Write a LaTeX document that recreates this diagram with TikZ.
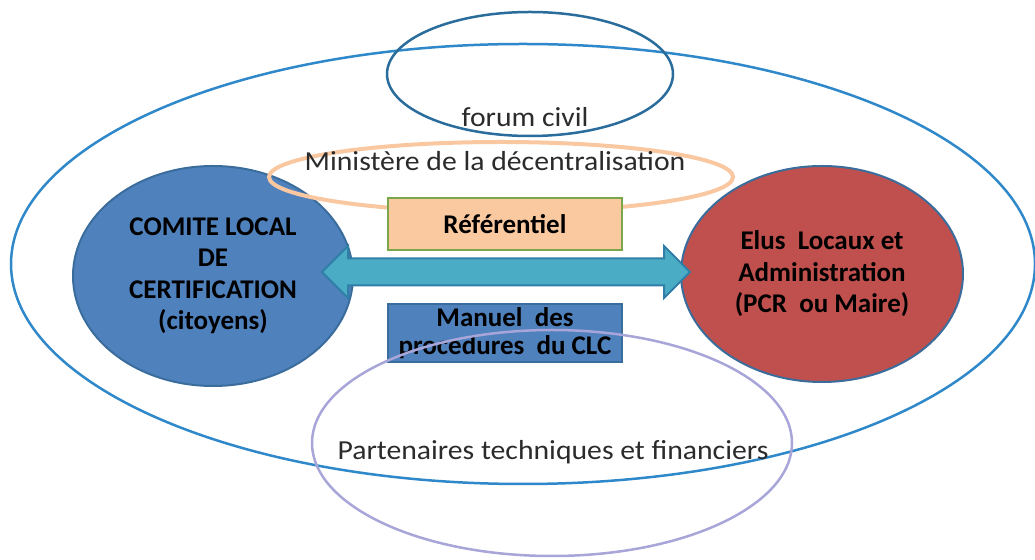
\documentclass[tikz,border=0pt]{standalone}
\usepackage{fontspec}
\setmainfont{Carlito}
\newfontfamily\widefont[FakeStretch=1.08]{Carlito}
\usetikzlibrary{shapes.geometric,shapes.arrows}

\definecolor{outerblue}{HTML}{2E88C9}
\definecolor{forumblue}{HTML}{2A6D9C}
\definecolor{minorange}{HTML}{F9C7A0}
\definecolor{refpeach}{HTML}{FAC9A0}
\definecolor{refgreen}{HTML}{7CA64A}
\definecolor{clcblue}{HTML}{4F81BD}
\definecolor{actorline}{HTML}{3A6C9C}
\definecolor{elusred}{HTML}{C0504D}
\definecolor{arrowteal}{HTML}{4BACC6}
\definecolor{arrowline}{HTML}{2F7FA6}
\definecolor{ptfpurple}{HTML}{A8A5D8}
\definecolor{textgray}{HTML}{2B2B2B}

\begin{document}
\begin{tikzpicture}[x=1pt,y=1pt,
		plain text/.style={text=textgray, font=\widefont\fontsize{27.5}{31}\selectfont},
		bold text/.style={font=\bfseries\fontsize{27}{31.5}\selectfont, align=center},
		actor/.style={ellipse, draw=actorline, line width=2pt, inner sep=0pt, bold text},
		docbox/.style={rectangle, line width=2pt, minimum width=234pt, inner sep=0pt, bold text}]
	\useasboundingbox (0,0) rectangle (1035,559);

	% big frame and forum civil
	\draw[outerblue, line width=2.5pt] (523,295) ellipse [x radius=512, y radius=220];
	\draw[forumblue, line width=2.5pt] (530,485) ellipse [x radius=143, y radius=62];
	\node[plain text] (forum) at (525,442) {forum civil};

	% the two actors
	\node[actor, fill=clcblue, minimum width=280pt, minimum height=220pt] (comite) at (213,283)
		{COMITE LOCAL\\DE\\CERTIFICATION\\(citoyens)};
	\node[actor, fill=elusred, minimum width=282pt, minimum height=216pt] (elus) at (822,285)
		{Elus~~Locaux et\\Administration\\(PCR~~ou Maire)};

	% ministere
	\draw[minorange, line width=4pt] (501,382) ellipse [x radius=232, y radius=35];
	\node[plain text] (ministere) at (495,398) {Ministère de la décentralisation};

	\node[docbox, draw=refgreen, fill=refpeach, minimum height=52pt] (ref) at (505,335) {Référentiel};

	% link between the actors
	\node[double arrow, draw=arrowline, fill=arrowteal, line width=2pt, inner sep=0pt,
		inner ysep=12.5pt, minimum height=368pt, double arrow head extend=12.5pt] (lien) at (506,287) {};

	\node[docbox, draw=actorline, fill=clcblue, minimum height=58pt,
		font=\bfseries\fontsize{27}{28.5}\selectfont] (manuel) at (505,226)
		{Manuel~~des\\procedures~~du CLC};

	% partenaires
	\draw[ptfpurple, line width=2.5pt] (552,116) ellipse [x radius=240, y radius=113];
	\node[plain text] (partenaires) at (553,107) {Partenaires techniques et financiers};
\end{tikzpicture}
\end{document}
